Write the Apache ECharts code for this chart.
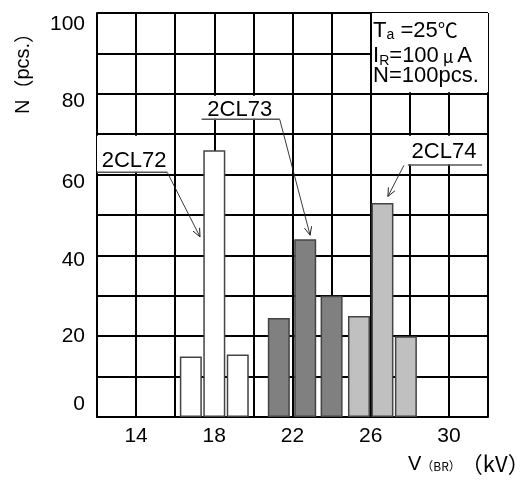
<!DOCTYPE html>
<html><head><meta charset="utf-8">
<script src="https://cdn.jsdelivr.net/npm/echarts@6/dist/echarts.min.js"></script>
<style>html,body{margin:0;padding:0;background:#fff}#c{width:520px;height:483px}</style>
</head><body><div id="c"></div>
<script>
// ---- data ----
const yTickLabels = [0, 20, 40, 60, 80, 100];
const xTickLabels = [14, 18, 22, 26, 30];
const seriesNames = ['2CL72', '2CL73', '2CL74'];
const cl72X = [16.8, 18.0, 19.2];
const cl72N = [15, 66, 15.5];
const cl73X = [21.3, 22.65, 24.0];
const cl73N = [24.5, 44, 30];
const cl74X = [25.4, 26.6, 27.8];
const cl74N = [25, 53, 20];
// annotation anchors (data units): label centre, underline [x0,x1,y], arrow start / tip
const labelCenter = [[13.9, 63.4], [19.3, 76.0], [29.75, 65.6]];
const underline = [[12.0, 15.6, 60.6], [17.35, 21.35, 73.7], [27.9, 31.7, 62.4]];
const arrowStart = [[15.6, 60.5], [21.35, 73.6], [27.7, 62.3]];
const arrowTip = [[17.27, 44.6], [22.9, 45.0], [26.88, 54.6]];
const labelBox = [[12.0, 69.6, 15.6, 60.7], [17.35, 79.5, 21.35, 73.8], [27.9, 69.6, 31.7, 62.5]];
const infoBox = [26.07, 100, 32, 80.4];

const FONT = '"Liberation Sans", Arial, "Noto Sans CJK SC", sans-serif';
const CJK = '"Noto Sans CJK SC", sans-serif';
const fills = ['#ffffff', '#808080', '#c0c0c0'];
const xs = [cl72X, cl73X, cl74X];
const ns = [cl72N, cl73N, cl74N];

const yPad = {100: [22, 0, 0, 0], 80: [15, 0, 0, 0], 60: [15, 0, 0, 0], 40: [10, 0, 0, 0], 20: [0, 0, 0, 0], 0: [0, 0, 26, 0]};
const yRich = {};
yTickLabels.forEach(v => { yRich['y' + v] = {fontSize: 21, fontFamily: FONT, color: '#000', padding: yPad[v]}; });

const option = {
  animation: false,
  backgroundColor: '#fff',
  grid: {left: 97, right: 32, top: 13, bottom: 66, containLabel: false},
  xAxis: {
    type: 'value', min: 12, max: 32, interval: 2,
    axisLine: {show: true, onZero: false, lineStyle: {color: '#000', width: 2}},
    axisTick: {show: false},
    splitLine: {show: true, lineStyle: {color: '#000', width: 2}},
    axisLabel: {margin: 9, fontSize: 21, fontFamily: FONT, color: '#000',
      formatter: v => xTickLabels.includes(v) ? String(v) : ''}
  },
  yAxis: {
    type: 'value', min: 0, max: 100, interval: 10,
    axisLine: {show: true, lineStyle: {color: '#000', width: 2}},
    axisTick: {show: false},
    splitLine: {show: true, lineStyle: {color: '#000', width: 2}},
    axisLabel: {margin: 12, fontSize: 21, fontFamily: FONT, color: '#000',
      formatter: v => yTickLabels.includes(v) ? '{y' + v + '|' + v + '}' : '', rich: yRich}
  },
  series: seriesNames.map((name, i) => ({
    name, type: 'bar', barWidth: 22, barGap: '-100%', z: 3,
    itemStyle: {color: fills[i], borderColor: '#444', borderWidth: 1.5},
    data: xs[i].map((x, k) => [x, ns[i][k]])
  }))
};

const chart = echarts.init(document.getElementById('c'));
chart.setOption(option);
const px = p => chart.convertToPixel({gridIndex: 0}, p);

const g = [];
// white backgrounds behind labels
labelBox.concat([infoBox]).forEach(b => {
  const a = px([b[0], b[1]]), c = px([b[2], b[3]]);
  g.push({type: 'rect', z: 50, silent: true,
    shape: {x: a[0], y: a[1], width: c[0] - a[0], height: c[1] - a[1]}, style: {fill: '#fff'}});
});
// series labels, underlines, arrows
seriesNames.forEach((name, i) => {
  const c = px(labelCenter[i]);
  g.push({type: 'text', z: 60, x: c[0], y: c[1],
    style: {text: name, fontSize: 22, fontFamily: FONT, fill: '#000', align: 'center', verticalAlign: 'middle'}});
  const u0 = px([underline[i][0], underline[i][2]]), u1 = px([underline[i][1], underline[i][2]]);
  g.push({type: 'line', z: 60, shape: {x1: u0[0], y1: u0[1], x2: u1[0], y2: u1[1]}, style: {stroke: '#555', lineWidth: 1.5}});
  const s = px(arrowStart[i]), t = px(arrowTip[i]);
  g.push({type: 'line', z: 60, shape: {x1: s[0], y1: s[1], x2: t[0], y2: t[1]}, style: {stroke: '#222', lineWidth: 0.9}});
  const ang = Math.atan2(t[1] - s[1], t[0] - s[0]);
  const L = 9, w = 0.42;
  const p1 = [t[0] - L * Math.cos(ang - w), t[1] - L * Math.sin(ang - w)];
  const p2 = [t[0] - L * Math.cos(ang + w), t[1] - L * Math.sin(ang + w)];
  g.push({type: 'polyline', z: 60, shape: {points: [p1, t, p2]}, style: {stroke: '#222', lineWidth: 1, fill: null}});
});
// info text box
const ib = px([infoBox[0], infoBox[1]]);
const rich = {
  m: {fontSize: 22, fontFamily: FONT, fill: '#000', lineHeight: 26},
  s: {fontSize: 14, fontFamily: FONT, fill: '#000', lineHeight: 26, padding: [10, 0, 0, 0]},
  u: {fontSize: 17, fontFamily: CJK, fill: '#000', lineHeight: 26, padding: [2, 0, 0, 0]},
  c: {fontSize: 20, fontFamily: CJK, fill: '#000', lineHeight: 26}
};
const infoLines = [
  ['{m|T}{s|a}{m| =25}{c|℃}', 30.5],
  ['{m|I}{s|R}{m|=100}{u| μ }{m|A}', 56.0],
  ['{m|N=100pcs.}', 75.7]
];
infoLines.forEach(([txt, yy]) => {
  g.push({type: 'text', z: 60, x: ib[0] + 1, y: yy,
    style: {text: txt, rich, align: 'left', verticalAlign: 'middle'}});
});
// axis names
g.push({type: 'text', z: 60, x: 23, y: 114, rotation: Math.PI / 2,
  style: {text: '{n|N}{p|（}{n|pcs.}{p|）}', align: 'left', verticalAlign: 'middle',
    rich: {n: {fontSize: 20, fontFamily: FONT, fill: '#000', lineHeight: 24},
           p: {fontSize: 20, fontFamily: CJK, fill: '#000', lineHeight: 24}}}});
g.push({type: 'text', z: 60, x: 408, y: 464,
  style: {text: '{v|V}{b|（BR）}{k|（kV）}', align: 'left', verticalAlign: 'middle',
    rich: {v: {fontSize: 20, fontFamily: FONT, fill: '#000', lineHeight: 26},
           b: {fontSize: 12, fontFamily: CJK, fill: '#000', lineHeight: 26, padding: [4, 0, 0, 0]},
           k: {fontSize: 22, fontFamily: CJK, fill: '#000', lineHeight: 26}}}});
chart.setOption({graphic: g});
</script></body></html>
